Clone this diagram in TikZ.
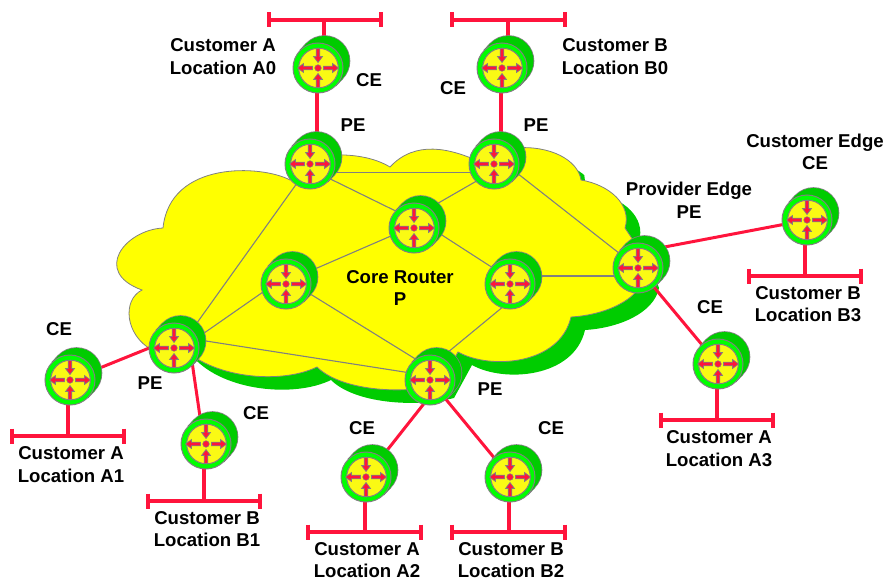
\documentclass[tikz,border=0pt]{standalone}
\usepackage{fontspec}
\setmainfont{Liberation Sans}
\usetikzlibrary{calc}
\definecolor{rlink}{RGB}{255,20,60}
\definecolor{cgray}{RGB}{128,128,128}
\definecolor{backgreen}{RGB}{0,204,0}
\definecolor{ringgreen}{RGB}{0,255,0}
\definecolor{face}{RGB}{250,250,20}
\definecolor{cloudyellow}{RGB}{255,255,0}
\tikzset{
  x=1pt,y=-1pt,
  rnode/.style={circle,minimum size=50pt,inner sep=0pt},
  corelink/.style={draw=cgray,line width=1.1pt},
  redlink/.style={draw=rlink,line width=3pt},
  barlink/.style={draw=rlink,line width=3.2pt},
  lbl/.style={font=\fontsize{18.6}{22.6}\selectfont\bfseries,align=center,inner sep=0pt,text=black},
  rarrow/.style={fill=rlink,draw=cgray,line width=0.7pt,line join=miter},
  pics/router/.style={code={
    \path[draw=cgray,line width=1.6pt] (6.5,-7) circle[radius=25];
    \path[draw=cgray,line width=1.6pt] (-17.7,-17.7)--(-11.2,-24.7);
    \path[draw=cgray,line width=1.6pt] (24.2,10.7)--(17.7,17.7);
    \path[fill=backgreen] (6.5,-7) circle[radius=25];
    \path[fill=backgreen] (-17.7,-17.7)--(-11.2,-24.7)--(24.2,10.7)--(17.7,17.7)--cycle;
    \path[fill=ringgreen,draw=cgray,line width=1pt] (0,0) circle[radius=25];
    \path[fill=face,draw=cgray,line width=1pt] (0.5,0) circle[radius=19.8];
    \foreach \r in {0,180}{
      \path[rarrow,rotate=\r] (5.5,-1.8)--(14.5,-1.8)--(14.5,-4.5)--(20.5,0)--(14.5,4.5)--(14.5,1.8)--(5.5,1.8)--cycle;}
    \foreach \r in {90,270}{
      \path[rarrow,rotate=\r] (19.5,-1.8)--(11.5,-1.8)--(11.5,-4.5)--(5.5,0)--(11.5,4.5)--(11.5,1.8)--(19.5,1.8)--cycle;}
    \path[fill=rlink,draw=cgray,line width=0.5pt] (0,0) circle[radius=3.3];
  }},
}
\newcommand{\lanbar}[4]{% name, x1, x2, y
  \coordinate (#1-l) at (#2,#4);
  \coordinate (#1-r) at (#3,#4);
  \draw[barlink] (#1-l) -- (#1-r);
  \draw[barlink] ($(#1-l)+(0,-7.5)$) -- ($(#1-l)+(0,7.5)$);
  \draw[barlink] ($(#1-r)+(0,-7.5)$) -- ($(#1-r)+(0,7.5)$);
}
\newcommand{\cloudpath}{
  (290,180) .. controls (262,165) and (170,160) .. (163,228)
  .. controls (125,230) and (92,272) .. (142,290)
  .. controls (122,300) and (125,335) .. (152,350)
  -- (180,345) .. controls (210,378) and (280,385) .. (317,367)
  .. controls (340,390) and (400,395) .. (440,385)
  -- (458,352) .. controls (490,370) and (560,365) .. (571,317)
  .. controls (605,315) and (640,300) .. (645,275)
  -- (633,240) -- (625,228)
  .. controls (632,205) and (610,185) .. (581,180)
  .. controls (578,160) and (550,145) .. (515,148)
  -- (480,162) .. controls (450,148) and (415,140) .. (390,167)
  .. controls (375,158) and (355,154) .. (330,155)
  -- cycle
}
\begin{document}
\begin{tikzpicture}
\useasboundingbox (0,0) rectangle (885,580);
% routers (named positions)
\node[rnode] (pa) at (310,164) {};
\node[rnode] (pb) at (494,164) {};
\node[rnode] (pt) at (414,228) {};
\node[rnode] (pl) at (286,284) {};
\node[rnode] (pc) at (510,284) {};
\node[rnode] (pr) at (638,268) {};
\node[rnode] (pe) at (174,348) {};
\node[rnode] (pd) at (430,380) {};
\node[rnode] (ca0) at (318,68) {};
\node[rnode] (cb0) at (502,68) {};
\node[rnode] (cb3) at (807,220) {};
\node[rnode] (ca3) at (718,364) {};
\node[rnode] (ca1) at (70,380) {};
\node[rnode] (cb1) at (206,444) {};
\node[rnode] (ca2) at (366,477) {};
\node[rnode] (cb2) at (510,477) {};
% cloud
\begin{scope}
\clip (170,345)--(570,300)--(570,160)--(583,165)--(585,181)--(625,203)--(660,195)--(660,420)--(170,420)--cycle;
\fill[backgreen,shift={(14,13)}] \cloudpath;
\end{scope}
\path[fill=cloudyellow,draw=cgray,line width=0.8pt] \cloudpath;
% core links
\draw[corelink] ($(pa)+(0,8.7)$) -- ($(pb)+(0,8.7)$);
\draw[corelink] ($(pa)+(0,5)$) -- ($(pt)+(0,-8)$);
\draw[corelink] ($(pb)+(0,7)$) -- ($(pt)+(0,-11)$);
\draw[corelink] ($(pb)+(0,-9)$) -- (pr.center);
\draw[corelink] ($(pt)+(0,-11)$) -- ($(pc)+(0,-5)$);
\draw[corelink] ($(pt)+(0,-2)$) -- ($(pl)+(0,-2.5)$);
\draw[corelink] ($(pl)+(0,-8)$) -- ($(pe)+(0,6)$);
\draw[corelink] ($(pl)+(0,-5)$) -- ($(pd)+(0,-12)$);
\draw[corelink] ($(pe)+(0,7)$) -- ($(pa)+(0,1)$);
\draw[corelink] ($(pe)+(0,-12)$) -- ($(pd)+(0,-4)$);
\draw[corelink] ($(pc)+(0,-8)$) -- ($(pr)+(0,8)$);
\draw[corelink] ($(pc)+(0,17)$) -- ($(pd)+(0,-13)$);
% red links
\draw[barlink] ($(ca0)+(-1,0)$) -- ($(pa)+(7,0)$);
\draw[barlink] ($(cb0)+(-1,0)$) -- ($(pb)+(7,0)$);
\draw[redlink] ($(pr)+(0,-16)$) -- (cb3.center);
\draw[redlink] (pr.center) -- (ca3.center);
\draw[redlink] ($(pe)+(0,-10)$) -- (ca1.center);
\draw[redlink] ($(pe)+(16,0)$) -- ($(cb1)+(-2,0)$);
\draw[redlink] ($(pd)+(0,16)$) -- (ca2.center);
\draw[redlink] (pd.center) -- (cb2.center);
% LAN bars
\lanbar{ba0}{269}{381}{20}
\lanbar{bb0}{452}{565}{20}
\lanbar{bb3}{749}{861}{276}
\lanbar{ba3}{661}{773}{420}
\lanbar{ba1}{12}{124}{436}
\lanbar{bb1}{148}{260}{501}
\lanbar{ba2}{308}{421}{532}
\lanbar{bb2}{452}{565}{532}
\draw[barlink] (324,20) -- ($(ca0)+(6,0)$);
\draw[barlink] (508,20) -- ($(cb0)+(6,0)$);
\draw[barlink] (805,276) -- ($(cb3)+(-2,0)$);
\draw[barlink] (717,420) -- ($(ca3)+(-1,0)$);
\draw[barlink] (68,436) -- ($(ca1)+(-2,0)$);
\draw[barlink] (204,501) -- ($(cb1)+(-2,0)$);
\draw[barlink] (365,532) -- ($(ca2)+(-1,0)$);
\draw[barlink] (509,532) -- ($(cb2)+(-1,0)$);
% router drawings
\foreach \n in {pa,pb,pt,pl,pc,pr,pe,pd,ca0,cb0,cb3,ca3,ca1,cb1,ca2,cb2}
  \pic at (\n) {router};
% labels
\node[lbl] (t1) at (223,56.5) {Customer A\\Location A0};
\node[lbl] (t2) at (615,56.5) {Customer B\\Location B0};
\node[lbl] (t3) at (369,80) {CE};
\node[lbl] (t4) at (453,88) {CE};
\node[lbl] (t5) at (353,125) {PE};
\node[lbl] (t6) at (536,125) {PE};
\node[lbl] (t7) at (815,152) {Customer Edge\\CE};
\node[lbl] (t8) at (689,200.5) {Provider Edge\\PE};
\node[lbl] (t9) at (808,304) {Customer B\\Location B3};
\node[lbl] (t10) at (710,307) {CE};
\node[lbl] (t11) at (719,448.5) {Customer A\\Location A3};
\node[lbl] (t12) at (59,329) {CE};
\node[lbl] (t13) at (150,383) {PE};
\node[lbl] (t14) at (71,464.5) {Customer A\\Location A1};
\node[lbl] (t15) at (256,413) {CE};
\node[lbl] (t16) at (207,529) {Customer B\\Location B1};
\node[lbl] (t17) at (362,428) {CE};
\node[lbl] (t18) at (551,428) {CE};
\node[lbl] (t19) at (367,560) {Customer A\\Location A2};
\node[lbl] (t20) at (511,560) {Customer B\\Location B2};
\node[lbl] (t21) at (490,389) {PE};
\node[lbl] (t22) at (400,288) {Core Router\\P};
\end{tikzpicture}
\end{document}
